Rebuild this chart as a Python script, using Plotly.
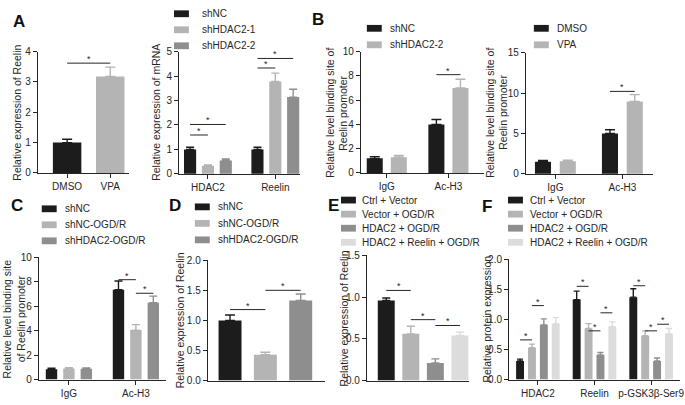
import plotly.graph_objects as go

W, H = 685, 405
FONT = "Liberation Sans, Arial, Helvetica, sans-serif"
TXT = "#262626"
BLACK = "#1c1c1c"
LIGHT = "#b4b4b4"
MID = "#8e8e8e"
PALE = "#dcdcdc"

# ---------------- data ----------------
a1_labels = ["DMSO", "VPA"]
a1_values = [1.0, 3.18]
a1_errors = [0.11, 0.31]

a2_groups = ["HDAC2", "Reelin"]
a2_series = ["shNC", "shHDAC2-1", "shHDAC2-2"]
a2_shNC = [1.0, 1.0]
a2_shNC_err = [0.09, 0.09]
a2_sh1 = [0.33, 3.78]
a2_sh1_err = [0.03, 0.34]
a2_sh2 = [0.55, 3.14]
a2_sh2_err = [0.06, 0.32]

b1_groups = ["IgG", "Ac-H3"]
b1_series = ["shNC", "shHDAC2-2"]
b1_shNC = [1.2, 4.0]
b1_shNC_err = [0.14, 0.4]
b1_sh2 = [1.3, 7.0]
b1_sh2_err = [0.14, 0.72]

b2_groups = ["IgG", "Ac-H3"]
b2_series = ["DMSO", "VPA"]
b2_dmso = [1.5, 5.0]
b2_dmso_err = [0.15, 0.45]
b2_vpa = [1.55, 8.95]
b2_vpa_err = [0.15, 0.85]

c_groups = ["IgG", "Ac-H3"]
c_series = ["shNC", "shNC-OGD/R", "shHDAC2-OGD/R"]
c_shNC = [0.85, 7.35]
c_shNC_err = [0.08, 0.72]
c_shNC_ogd = [0.9, 4.05]
c_shNC_ogd_err = [0.08, 0.45]
c_sh2_ogd = [0.88, 6.28]
c_sh2_ogd_err = [0.07, 0.55]

d_labels = ["shNC", "shNC-OGD/R", "shHDAC2-OGD/R"]
d_values = [1.0, 0.43, 1.33]
d_errors = [0.09, 0.04, 0.11]

e_labels = ["Ctrl + Vector", "Vector + OGD/R", "HDAC2 + OGD/R", "HDAC2 + Reelin + OGD/R"]
e_values = [0.96, 0.56, 0.21, 0.54]
e_errors = [0.03, 0.09, 0.05, 0.04]

f_groups = ["HDAC2", "Reelin", "p-GSK3β-Ser9"]
f_series = e_labels
f_ctrl = [0.31, 1.33, 1.37]
f_ctrl_err = [0.03, 0.14, 0.14]
f_vec = [0.53, 0.85, 0.73]
f_vec_err = [0.06, 0.08, 0.08]
f_hdac = [0.91, 0.41, 0.31]
f_hdac_err = [0.10, 0.04, 0.05]
f_hdac_reelin = [0.93, 0.88, 0.76]
f_hdac_reelin_err = [0.10, 0.08, 0.09]

# significance brackets: (bar a, bar b, height)
a1_sig = [(0, 1, 3.62)]
a2_sig = [((0, 0), (0, 1), 1.59), ((0, 0), (0, 2), 2.02), ((1, 0), (1, 1), 4.33), ((1, 0), (1, 2), 4.72)]
b1_sig = [((1, 0), (1, 1), 8.1)]
b2_sig = [((1, 0), (1, 1), 10.2)]
c_sig = [((1, 0), (1, 1), 8.17), ((1, 1), (1, 2), 7.06)]
d_sig = [(0, 1, 1.18), (1, 2, 1.5)]
e_sig = [(0, 1, 1.08), (1, 2, 0.73), (2, 3, 0.66)]
f_sig = [((0, 0), (0, 1), 0.66), ((0, 1), (0, 2), 1.23), ((1, 0), (1, 1), 1.55), ((1, 1), (1, 2), 0.81),
         ((1, 2), (1, 3), 1.11), ((2, 0), (2, 1), 1.56), ((2, 1), (2, 2), 0.81), ((2, 2), (2, 3), 0.92)]

# ---------------- helpers ----------------
fig = go.Figure()
layout = {}
shapes = []
annotations = []


def names(i):
    return ("x" if i == 1 else f"x{i}", "y" if i == 1 else f"y{i}")


def add_axes(i, box, xr, yr, dtick, fmt, tickvals=None, ticktext=None):
    x0, x1, yt, yb = box
    xn, yn = names(i)
    sfx = "" if i == 1 else str(i)
    has = tickvals is not None
    layout["xaxis" + sfx] = dict(
        domain=[x0 / W, x1 / W], anchor=yn, range=xr, showline=True, linecolor=TXT, linewidth=1,
        ticks="outside" if has else "", ticklen=4, tickcolor=TXT, tickwidth=1,
        tickmode="array", tickvals=tickvals if has else [], ticktext=ticktext if has else [],
        showticklabels=has, showgrid=False, zeroline=False, ticklabeloverflow="allow",
        tickfont=dict(size=10, color=TXT, family=FONT), fixedrange=True)
    layout["yaxis" + sfx] = dict(
        domain=[1 - yb / H, 1 - yt / H], anchor=xn, range=yr, tick0=0, dtick=dtick, tickformat=fmt,
        showline=True, linecolor=TXT, linewidth=1, ticks="outside", ticklen=4, tickcolor=TXT, tickwidth=1,
        showgrid=False, zeroline=False, ticklabeloverflow="allow",
        tickfont=dict(size=10, color=TXT, family=FONT), fixedrange=True)


def add_bar(i, xs, ys, errs, color, width, cap):
    xn, yn = names(i)
    fig.add_trace(go.Bar(
        x=xs, y=ys, width=width, xaxis=xn, yaxis=yn, showlegend=False, hoverinfo="skip",
        marker=dict(color=color, line=dict(width=0)),
        error_y=dict(type="data", array=errs, arrayminus=[0] * len(errs), symmetric=False,
                     color=color, thickness=1.4, width=cap)))


def sig(i, xa, xb, y):
    xn, yn = names(i)
    shapes.append(dict(type="line", xref=xn, yref=yn, x0=xa, x1=xb, y0=y, y1=y,
                       line=dict(color=TXT, width=1)))
    annotations.append(dict(xref=xn, yref=yn, x=(xa + xb) / 2, y=y, text="*", showarrow=False,
                            yanchor="bottom", yshift=-3, font=dict(size=9, color=TXT, family=FONT)))


def ytitle(px, text, ycenter, size=10.5):
    annotations.append(dict(xref="paper", yref="paper", x=px / W, y=1 - ycenter / H, text=text,
                            textangle=-90, showarrow=False, xanchor="center", yanchor="middle",
                            font=dict(size=size, color=TXT, family=FONT)))


def legend(xsw, ytop, dy, names_, colors, xtext, sw=15, sh=7):
    for k, (nm, col) in enumerate(zip(names_, colors)):
        yc = ytop + k * dy
        shapes.append(dict(type="rect", xref="paper", yref="paper", x0=xsw / W, x1=(xsw + sw) / W,
                           y0=1 - (yc - sh / 2) / H, y1=1 - (yc + sh / 2) / H,
                           fillcolor=col, line=dict(width=0)))
        annotations.append(dict(xref="paper", yref="paper", x=xtext / W, y=1 - yc / H, text=nm,
                                showarrow=False, xanchor="left", yanchor="middle",
                                font=dict(size=10, color=TXT, family=FONT)))


def plabel(px, py, t):
    annotations.append(dict(xref="paper", yref="paper", x=px / W, y=1 - py / H, text=f"<b>{t}</b>",
                            showarrow=False, xanchor="center", yanchor="middle",
                            font=dict(size=17, color="#111111", family=FONT)))


def grouped(i, groups, series_vals, series_errs, colors, step, width, cap):
    n = len(series_vals)
    pos = lambda g, s: g + (s - (n - 1) / 2) * step
    for s, (vals, errs, col) in enumerate(zip(series_vals, series_errs, colors)):
        add_bar(i, [pos(g, s) for g in range(len(groups))], vals, errs, col, width, cap)
    return pos


# ---------------- panel A (left) ----------------
add_axes(1, (38, 130, 47, 172), [-0.68, 1.44], [0, 4], 1, "d", [0, 1], a1_labels)
for k, (v, e, c) in enumerate(zip(a1_values, a1_errors, [BLACK, LIGHT])):
    add_bar(1, [k], [v], [e], c, 0.66, 5)
for a, b, y in a1_sig:
    sig(1, a, b, y)
ytitle(17, "Relative expression of Reelin", 110)

# ---------------- panel A (right) ----------------
add_axes(2, (180, 302, 47, 173), [-0.43, 1.37], [0, 5], 1, "d", [0, 1], a2_groups)
p2 = grouped(2, a2_groups, [a2_shNC, a2_sh1, a2_sh2], [a2_shNC_err, a2_sh1_err, a2_sh2_err],
             [BLACK, LIGHT, MID], 0.265, 0.18, 4)
for a, b, y in a2_sig:
    sig(2, p2(*a), p2(*b), y)
ytitle(157, "Relative expression of mRNA", 110)
legend(175, 8, 16.5, a2_series, [BLACK, LIGHT, MID], 201)

# ---------------- panel B (left) ----------------
add_axes(3, (363, 487, 47, 172), [-0.42, 1.58], [0, 10], 2, "d", [0, 1], b1_groups)
p3 = grouped(3, b1_groups, [b1_shNC, b1_sh2], [b1_shNC_err, b1_sh2_err], [BLACK, LIGHT], 0.39, 0.26, 5)
for a, b, y in b1_sig:
    sig(3, p3(*a), p3(*b), y)
ytitle(332, "Relative level binding site of", 110)
ytitle(345, "Reelin promoter", 110)
legend(369, 23, 17, b1_series, [BLACK, LIGHT], 390)

# ---------------- panel B (right) ----------------
add_axes(4, (529, 657, 48, 173), [-0.44, 1.46], [0, 15], 5, "d", [0, 1], b2_groups)
p4 = grouped(4, b2_groups, [b2_dmso, b2_vpa], [b2_dmso_err, b2_vpa_err], [BLACK, LIGHT], 0.37, 0.24, 5)
for a, b, y in b2_sig:
    sig(4, p4(*a), p4(*b), y)
ytitle(493, "Relative level binding site of", 110)
ytitle(506, "Reelin promoter", 110)
legend(537, 23, 17, b2_series, [BLACK, LIGHT], 558)

# ---------------- panel C ----------------
add_axes(5, (39, 167, 259, 385), [-0.45, 1.45], [0, 10], 2, "d", [0, 1], c_groups)
p5 = grouped(5, c_groups, [c_shNC, c_shNC_ogd, c_sh2_ogd], [c_shNC_err, c_shNC_ogd_err, c_sh2_ogd_err],
             [BLACK, LIGHT, MID], 0.26, 0.17, 4)
for a, b, y in c_sig:
    sig(5, p5(*a), p5(*b), y)
ytitle(8, "Relative level binding site", 322)
ytitle(22, "of Reelin promoter", 322)
legend(42, 209, 16.5, c_series, [BLACK, LIGHT, MID], 63)

# ---------------- panel D ----------------
add_axes(6, (209, 327, 262, 386), [-0.63, 2.69], [0, 2], 0.5, ".1f")
for k, (v, e, c) in enumerate(zip(d_values, d_errors, [BLACK, LIGHT, MID])):
    add_bar(6, [k], [v], [e], c, 0.65, 5)
for a, b, y in d_sig:
    sig(6, a, b, y)
ytitle(181, "Relative expression of Reelin", 324)
legend(196, 207, 17, d_labels, [BLACK, LIGHT, MID], 217)

# ---------------- panel E ----------------
add_axes(7, (369, 472, 257, 386), [-0.79, 3.38], [0, 1.5], 0.5, ".1f")
for k, (v, e, c) in enumerate(zip(e_values, e_errors, [BLACK, LIGHT, MID, PALE])):
    add_bar(7, [k], [v], [e], c, 0.69, 4)
for a, b, y in e_sig:
    sig(7, a, b, y)
ytitle(346, "Relative expression of Reelin", 322)
legend(343, 200, 14.5, e_labels, [BLACK, LIGHT, MID, PALE], 362)

# ---------------- panel F ----------------
add_axes(8, (512, 684, 261, 385), [-0.51, 2.51], [0, 2], 0.5, ".1f", [0, 1, 2], f_groups)
p8 = grouped(8, f_groups, [f_ctrl, f_vec, f_hdac, f_hdac_reelin],
             [f_ctrl_err, f_vec_err, f_hdac_err, f_hdac_reelin_err], [BLACK, LIGHT, MID, PALE], 0.21, 0.14, 3)
for a, b, y in f_sig:
    sig(8, p8(*a), p8(*b), y)
ytitle(490, "Relative protein expression", 323)
legend(511, 200, 14.5, f_series, [BLACK, LIGHT, MID, PALE], 531)

# panel letters
plabel(19, 16, "A")
plabel(320, 14, "B")
plabel(17, 206, "C")
plabel(176, 206, "D")
plabel(335, 206, "E")
plabel(490, 207, "F")

fig.update_layout(
    width=W, height=H, autosize=False, margin=dict(l=0, r=0, t=0, b=0),
    paper_bgcolor="white", plot_bgcolor="white", barmode="overlay", showlegend=False,
    font=dict(family=FONT, color=TXT, size=10), shapes=shapes, annotations=annotations, **layout)

fig.write_html("out.html", config={"displayModeBar": False, "staticPlot": True},
               post_script="document.body.style.margin='0px';document.body.style.overflow='hidden';")
